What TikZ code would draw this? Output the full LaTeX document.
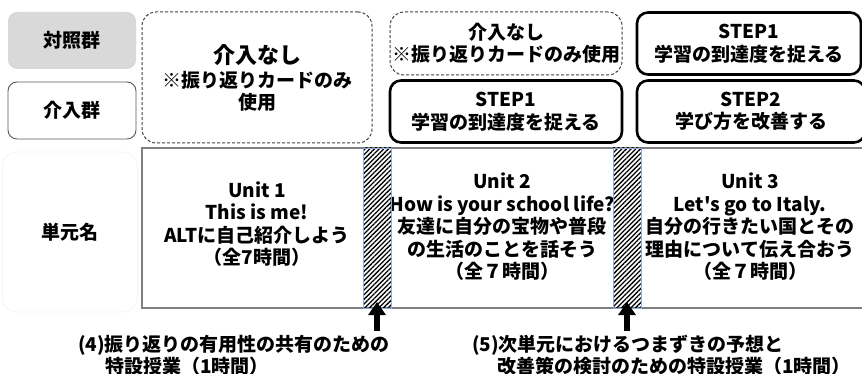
\documentclass[tikz,border=0pt]{standalone}
\usepackage{fontspec}
\setmainfont{Noto Sans CJK JP}[Ligatures=TeXOff]
\usetikzlibrary{patterns.meta,arrows.meta}
\definecolor{lgray}{HTML}{D9D9D9}
\definecolor{dgray}{HTML}{595959}
\definecolor{ddgray}{HTML}{404040}
\definecolor{mgray}{HTML}{7F7F7F}
\definecolor{fgray}{HTML}{F4F4F4}
\definecolor{stripblue}{HTML}{8FAADC}
\begin{document}
\begin{tikzpicture}[x=1pt,y=-1pt,
  every node/.style={font=\bfseries\fontsize{19}{22.5}\selectfont, align=center, inner sep=0pt},
  ctrlbox/.style={fill=lgray, rounded corners=9pt, minimum width=128pt, minimum height=57pt},
  intvbox/.style={draw=dgray, line width=0.9pt, rounded corners=9pt, minimum width=128pt, minimum height=57pt},
  faintbox/.style={draw=fgray, line width=0.8pt, rounded corners=14pt},
  nonebox/.style={draw=ddgray, line width=1pt, dash pattern=on 3pt off 2pt, rounded corners=14pt},
  stepbox/.style={draw=black, line width=2.6pt, rounded corners=11pt, minimum height=62pt},
  frame/.style={draw=mgray, line width=1.3pt},
  strip/.style={draw=stripblue, line width=0.9pt, minimum width=28pt, minimum height=160pt,
    pattern={Lines[angle=45,distance=3.3pt,line width=1.3pt]}, pattern color=black},
  uparrow/.style={draw=black, line width=6pt, -{Triangle[width=17pt,length=13pt]}},
  bigtxt/.style={font=\bfseries\fontsize{22}{25}\selectfont}
]
\useasboundingbox (0,0) rectangle (862,374);

% left labels
\node[ctrlbox] (ctrl) at (72,40.5) {対照群};
\node[intvbox] (intv) at (72,110.5) {介入群};
\node[faintbox, minimum width=135pt, minimum height=160pt] (unitlbl) at (70,232) {単元名};

% top boxes
\node[nonebox, minimum width=230pt, minimum height=131pt] (none1) at (257,77.5) {};
\node[bigtxt] (none1a) at (257,55) {介入なし};
\node (none1b) at (257,91.5) {※振り返りカードのみ\\使用};

\node[nonebox, minimum width=232pt, minimum height=63pt] (none2) at (506,43.5) {介入なし\\※振り返りカードのみ使用};
\node[stepbox, minimum width=232pt] (s1a) at (506,111.5) {STEP1\\学習の到達度を捉える};
\node[stepbox, minimum width=224pt] (s1b) at (749,43.5) {STEP1\\学習の到達度を捉える};
\node[stepbox, minimum width=228pt] (s2) at (751,111.5) {STEP2\\学び方を改善する};

% main frame
\draw[frame] (870,148) -- (142,148) -- (142,308) -- (870,308);

% unit texts
\node (u1) at (257,224) {Unit 1\\This is me!\\ALTに自己紹介しよう\\（全7時間）};
\node (u2) at (502,227) {Unit 2\\How is your school life?\\友達に自分の宝物や普段\\の生活のことを話そう\\（全７時間）};
\node (u3) at (750,227) {Unit 3\\Let's go to Italy.\\自分の行きたい国とその\\理由について伝え合おう\\（全７時間）};

% hatched strips
\node[strip] (h1) at (377,228) {};
\node[strip] (h2) at (627,228) {};

% arrows
\coordinate (a1) at (377,331);
\coordinate (a1t) at (377,302);
\coordinate (a2) at (627,331);
\coordinate (a2t) at (627,302);
\draw[uparrow] (a1) -- (a1t);
\draw[uparrow] (a2) -- (a2t);

% bottom texts
\node[anchor=west] (n4) at (78,345) {(4)振り返りの有用性の共有のための};
\node[anchor=west] (n4b) at (105,366) {特設授業（1時間）};
\node[anchor=west] (n5) at (472,345) {(5)次単元におけるつまずきの予想と};
\node[anchor=west] (n5b) at (497,366) {改善策の検討のための特設授業（1時間）};
\end{tikzpicture}
\end{document}
